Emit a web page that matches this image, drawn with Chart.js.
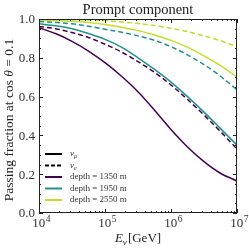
<!DOCTYPE html>
<html lang="en">
<head>
<meta charset="UTF-8" />
<title>Prompt component</title>
<script src="https://cdn.jsdelivr.net/npm/chart.js"></script>
<style>
  html, body { margin: 0; padding: 0; background: #fff; }
</style>
</head>
<body>
<canvas id="chartCanvas" width="249" height="249"></canvas>
<script>
// neutrino energy in GeV (log-spaced read points)
const energies = [1e4, 17783, 31623, 56234, 1e5, 177828, 316228, 562341, 1e6, 1778279, 3162278, 5623413, 1e7];

// passing fractions
const numu1350 = [0.955, 0.925, 0.885, 0.835, 0.775, 0.705, 0.625, 0.53, 0.43, 0.34, 0.265, 0.205, 0.165];
const nue1350  = [0.962, 0.95, 0.93, 0.905, 0.87, 0.83, 0.78, 0.725, 0.66, 0.585, 0.505, 0.42, 0.33];
const numu1950 = [0.975, 0.965, 0.95, 0.925, 0.895, 0.855, 0.80, 0.74, 0.675, 0.60, 0.52, 0.435, 0.35];
const nue1950  = [0.987, 0.982, 0.975, 0.963, 0.947, 0.932, 0.913, 0.89, 0.857, 0.815, 0.765, 0.705, 0.635];
const numu2550 = [0.995, 0.992, 0.988, 0.982, 0.972, 0.958, 0.94, 0.918, 0.89, 0.855, 0.81, 0.76, 0.70];
const nue2550  = [0.999, 0.998, 0.997, 0.995, 0.992, 0.985, 0.977, 0.966, 0.952, 0.935, 0.913, 0.888, 0.857];

const depthLabels = ["depth = 1350 m", "depth = 1950 m", "depth = 2550 m"];
const depthColors = ["#440154", "#21918c", "#c0df25"];
const xTickValues = [1e4, 1e5, 1e6, 1e7];
const xTickExp = ["4", "5", "6", "7"];
const yTickValues = [0, 0.2, 0.4, 0.6, 0.8, 1.0];

const serif = "'Liberation Serif', 'DejaVu Serif', serif";

function pts(vals) {
  return energies.map((e, i) => ({ x: e, y: vals[i] }));
}

function line(vals, color, dashed) {
  return {
    data: pts(vals),
    borderColor: color,
    borderWidth: 1.5,
    borderDash: dashed ? [5, 3] : [],
    pointRadius: 0,
    fill: false,
    cubicInterpolationMode: "monotone",
  };
}

// frame, inward ticks, labels, legend
const decorations = {
  id: "decorations",
  afterDraw(chart) {
    const ctx = chart.ctx;
    const a = chart.chartArea;
    const xs = chart.scales.x;
    const ys = chart.scales.y;
    ctx.save();
    ctx.strokeStyle = "#222";
    ctx.lineWidth = 1;
    ctx.strokeRect(a.left + 0.5, a.top + 0.5, a.right - a.left - 1, a.bottom - a.top - 1);

    // x ticks
    for (let n = 4; n <= 7; n++) {
      for (let k = 1; k <= 9; k++) {
        const v = k * Math.pow(10, n);
        if (v > 1e7) break;
        const px = Math.round(xs.getPixelForValue(v)) + 0.5;
        const len = k === 1 ? 4 : 2;
        ctx.beginPath();
        ctx.moveTo(px, a.bottom); ctx.lineTo(px, a.bottom - len);
        ctx.moveTo(px, a.top); ctx.lineTo(px, a.top + len);
        ctx.stroke();
      }
    }
    // y ticks
    for (let i = 0; i <= 20; i++) {
      const py = Math.round(ys.getPixelForValue(i * 0.05)) + 0.5;
      const len = i % 4 === 0 ? 4 : 2;
      ctx.beginPath();
      ctx.moveTo(a.left, py); ctx.lineTo(a.left + len, py);
      ctx.moveTo(a.right, py); ctx.lineTo(a.right - len, py);
      ctx.stroke();
    }

    ctx.fillStyle = "#333";
    // y tick labels
    ctx.font = "13px " + serif;
    ctx.textAlign = "right";
    ctx.textBaseline = "middle";
    yTickValues.forEach(v => {
      ctx.fillText(v.toFixed(1), a.left - 4, ys.getPixelForValue(v) + 1);
    });
    // x tick labels
    ctx.textBaseline = "alphabetic";
    xTickValues.forEach((v, i) => {
      const px = xs.getPixelForValue(v);
      ctx.font = "13px " + serif;
      const w1 = ctx.measureText("10").width;
      ctx.font = "9.5px " + serif;
      const w2 = ctx.measureText(xTickExp[i]).width;
      const x0 = px - (w1 + w2) / 2 + 2;
      ctx.textAlign = "left";
      ctx.font = "13px " + serif;
      ctx.fillText("10", x0, a.bottom + 14);
      ctx.font = "9.5px " + serif;
      ctx.fillText(xTickExp[i], x0 + w1 + 0.5, a.bottom + 8.5);
    });

    // title
    ctx.fillStyle = "#222";
    ctx.font = "14.5px " + serif;
    ctx.textAlign = "center";
    ctx.fillText("Prompt component", (a.left + a.right) / 2, 14);

    // x axis title: E_nu [GeV]
    ctx.textAlign = "left";
    ctx.font = "italic 13px " + serif;
    const wE = ctx.measureText("E").width;
    ctx.font = "9px " + serif;
    const wNu = ctx.measureText("ν").width;
    ctx.font = "13px " + serif;
    const wG = ctx.measureText("[GeV]").width;
    let x0 = (a.left + a.right) / 2 - (wE + wNu + wG + 1) / 2;
    ctx.font = "italic 13px " + serif;
    ctx.fillText("E", x0, 242);
    ctx.font = "italic 9px " + serif;
    ctx.fillText("ν", x0 + wE, 245);
    ctx.font = "13px " + serif;
    ctx.fillText("[GeV]", x0 + wE + wNu + 1, 242);

    // y axis title
    ctx.save();
    ctx.translate(13, (a.top + a.bottom) / 2 + 4);
    ctx.rotate(-Math.PI / 2);
    const p1 = "Passing fraction at cos ", p2 = "θ", p3 = " = 0.1";
    const fs = "13.5px ";
    ctx.font = fs + serif;
    const w1 = ctx.measureText(p1).width, w3 = ctx.measureText(p3).width;
    ctx.font = "italic " + fs + serif;
    const w2 = ctx.measureText(p2).width;
    let t = -(w1 + w2 + w3) / 2;
    ctx.font = fs + serif;
    ctx.fillText(p1, t, 0);
    ctx.font = "italic " + fs + serif;
    ctx.fillText(p2, t + w1, 0);
    ctx.font = fs + serif;
    ctx.fillText(p3, t + w1 + w2, 0);
    ctx.restore();

    // legend
    const rows = [154, 165.5, 177, 188.5, 200];
    const lx0 = 45, lx1 = 62, tx = 70;
    const legendLines = [
      { color: "#000", dash: [] },
      { color: "#000", dash: [4, 2] },
      { color: depthColors[0], dash: [] },
      { color: depthColors[1], dash: [] },
      { color: depthColors[2], dash: [] },
    ];
    legendLines.forEach((l, i) => {
      ctx.beginPath();
      ctx.setLineDash(l.dash);
      ctx.strokeStyle = l.color;
      ctx.lineWidth = 2;
      ctx.moveTo(lx0, rows[i]); ctx.lineTo(lx1, rows[i]);
      ctx.stroke();
    });
    ctx.setLineDash([]);
    ctx.fillStyle = "#333";
    ctx.textBaseline = "middle";
    ctx.font = "italic 9px " + serif;
    const wn = ctx.measureText("ν").width;
    ctx.fillText("ν", tx, rows[0]);
    ctx.fillText("ν", tx, rows[1]);
    ctx.font = "italic 6px " + serif;
    ctx.fillText("μ", tx + wn, rows[0] + 2.5);
    ctx.fillText("e", tx + wn, rows[1] + 2.5);
    ctx.font = "9px " + serif;
    depthLabels.forEach((s, i) => ctx.fillText(s, tx, rows[i + 2]));
    ctx.restore();
  },
};

new Chart(document.getElementById("chartCanvas").getContext("2d"), {
  type: "line",
  data: {
    datasets: [
      line(numu1350, depthColors[0], false),
      line(nue1350, depthColors[0], true),
      line(numu1950, depthColors[1], false),
      line(nue1950, depthColors[1], true),
      line(numu2550, depthColors[2], false),
      line(nue2550, depthColors[2], true),
    ],
  },
  options: {
    responsive: false,
    animation: false,
    devicePixelRatio: 1,
    layout: { padding: { top: 19, right: 12, left: 0, bottom: 0 } },
    plugins: { legend: { display: false }, tooltip: { enabled: false } },
    scales: {
      x: {
        type: "logarithmic",
        min: 1e4,
        max: 1e7,
        grid: { display: false },
        border: { display: false },
        ticks: { display: false },
        afterFit: s => { s.height = 36; },
      },
      y: {
        min: 0,
        max: 1,
        grid: { display: false },
        border: { display: false },
        ticks: { display: false },
        afterFit: s => { s.width = 39; },
      },
    },
  },
  plugins: [decorations],
});
</script>
</body>
</html>
